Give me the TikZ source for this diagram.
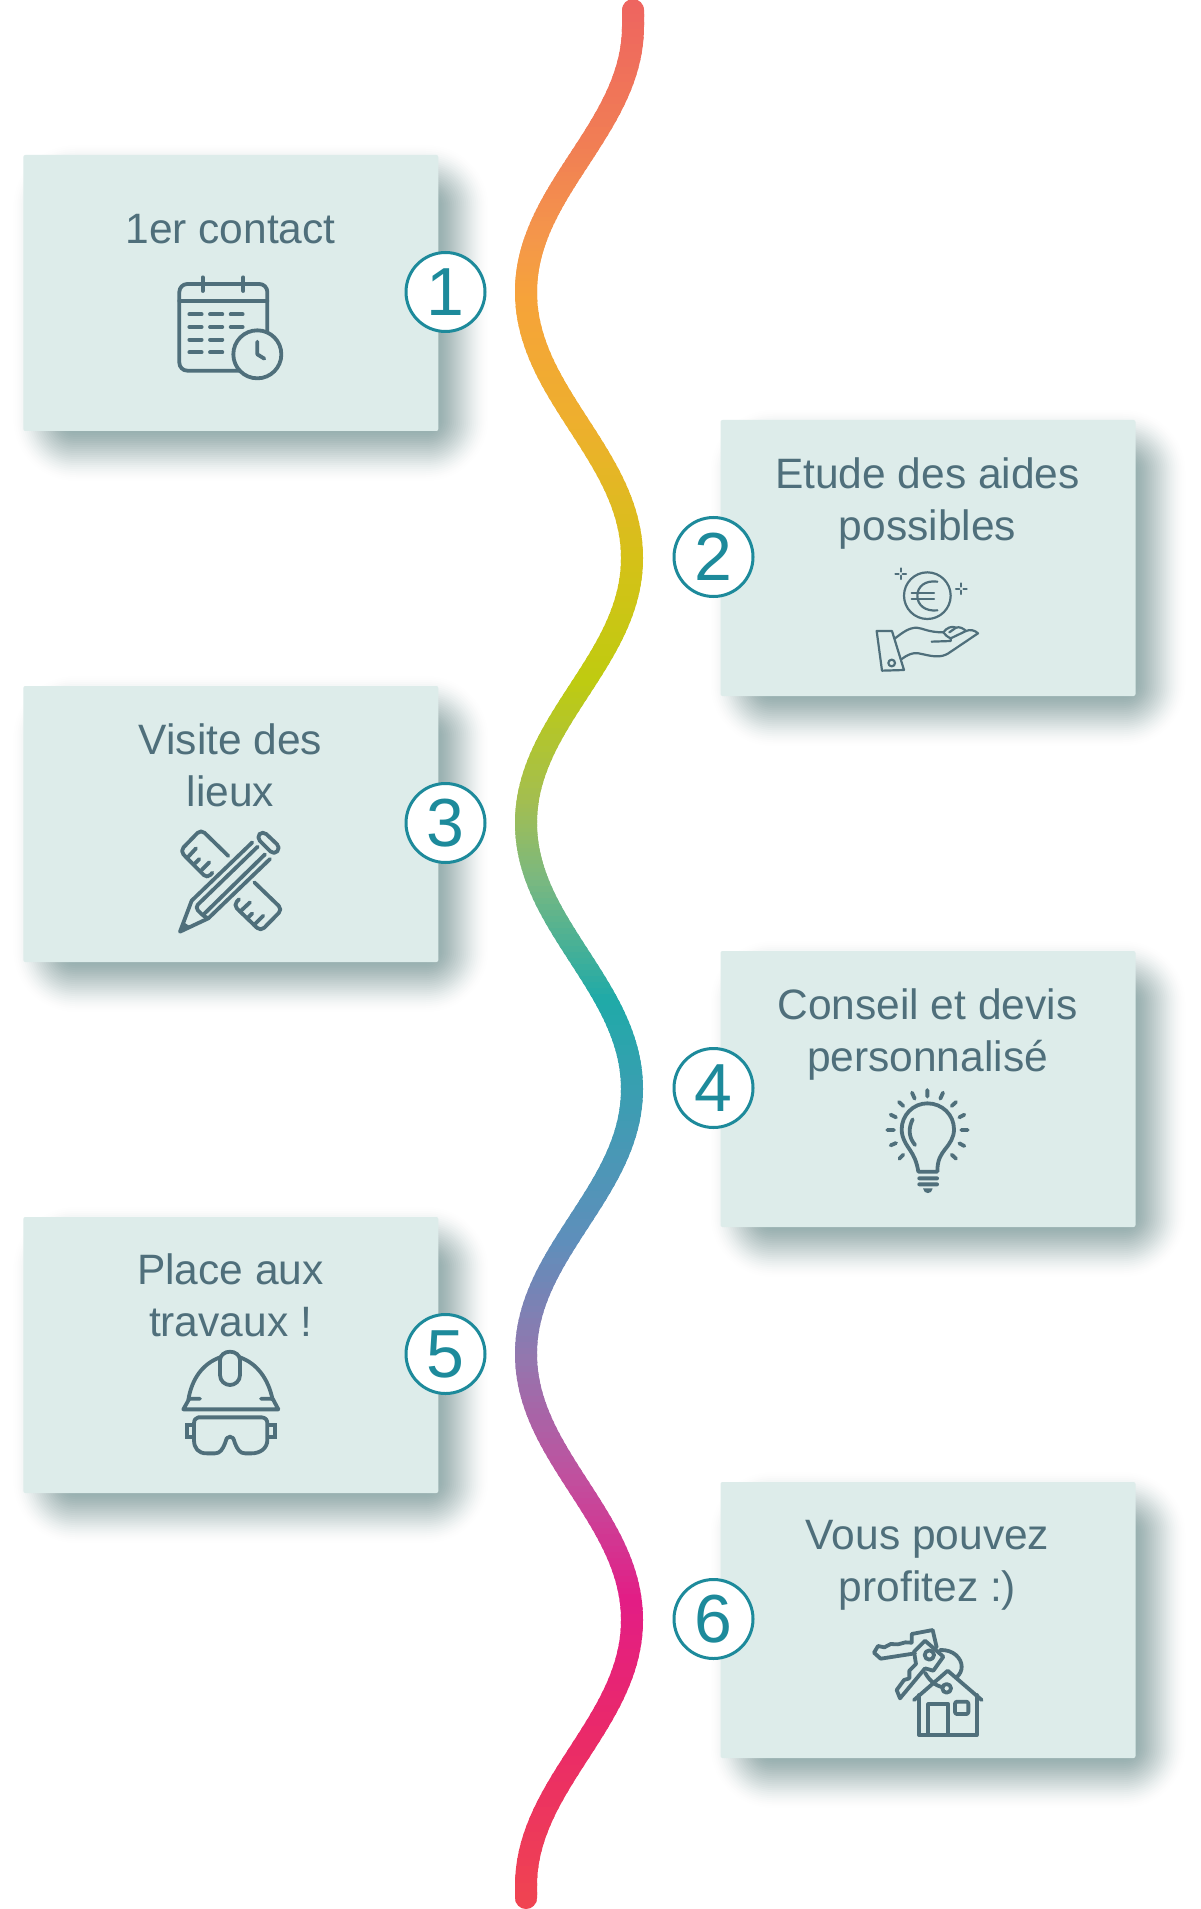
\documentclass[tikz,border=0pt]{standalone}
\usepackage{fontspec}
\setmainfont{Liberation Sans}
\definecolor{boxc}{HTML}{DDECEA}
\definecolor{inkc}{HTML}{4F6F7B}
\definecolor{numc}{HTML}{1D8A9B}
\definecolor{shadc}{HTML}{91ACAC}
\definecolor{w0}{HTML}{EE6460}\definecolor{w1}{HTML}{F17F54}\definecolor{w2}{HTML}{F4974A}
\definecolor{w3}{HTML}{F6A33A}\definecolor{w4}{HTML}{EDB02D}\definecolor{w5}{HTML}{D5C118}
\definecolor{w6}{HTML}{BFCB10}\definecolor{w7}{HTML}{A3BE50}\definecolor{w8}{HTML}{7AB880}
\definecolor{w9}{HTML}{1FAAA8}\definecolor{w10}{HTML}{3C9DB2}\definecolor{w11}{HTML}{5E8FBB}
\definecolor{w12}{HTML}{9476AE}\definecolor{w13}{HTML}{C14F9E}\definecolor{w14}{HTML}{E31D85}
\definecolor{w15}{HTML}{EA2A68}\definecolor{w16}{HTML}{F04550}
\tikzset{
 cardbox/.style={fill=boxc,draw=none,rounded corners=1pt,minimum width=207.5pt,minimum height=138pt,inner sep=0pt,outer sep=0pt},
 cardtext/.style={text=inkc,font=\fontsize{21.25}{26.2}\selectfont,align=center,anchor=north,inner sep=0pt},
 numdisc/.style={circle,fill=white,draw=numc,line width=1.5pt,minimum size=39.5pt,inner sep=0pt,text=numc,font=\fontsize{34}{34}\selectfont},
 icon/.style={draw=inkc,line width=1.9pt,line cap=round,line join=round},
 iconthin/.style={draw=inkc,line width=1.1pt,line cap=round,line join=round},
 zoomed/.style={x=0.16667pt,y=-0.16667pt},
}
\newcommand{\softcard}[2]{% #1 left, #2 top of the card
 \foreach \i in {1,...,31}{
  \pgfmathsetmacro{\tA}{(\i-1)/31}
  \pgfmathsetmacro{\tB}{\i/31}
  \pgfmathsetmacro{\cA}{\tA*\tA*(3-2*\tA)}
  \pgfmathsetmacro{\cB}{\tB*\tB*(3-2*\tB)}
  \pgfmathsetmacro{\al}{(\cB-\cA)/(1-\cA)}
  \pgfmathsetmacro{\e}{30-2*(\i-1)}
  \pgfmathsetmacro{\rr}{max(1,(\e+32)*0.5)}
  \fill[shadc,opacity=\al,rounded corners=\rr pt] ({#1+20-\e},{#2+20-\e}) rectangle ({#1+435+\e},{#2+296+\e});
 }
}
\newcommand{\wavecurve}{(633,10) -- (633,26)
 .. controls (633,128) and (526,190) .. (526,292)
 .. controls (526,394) and (632,456) .. (632,558)
 .. controls (632,660) and (526,721) .. (526,823)
 .. controls (526,925) and (632,987) .. (632,1089)
 .. controls (632,1191) and (526,1252) .. (526,1354)
 .. controls (526,1456) and (632,1518) .. (632,1620)
 .. controls (632,1722) and (526,1784) .. (526,1886) -- (526,1898)}
\begin{document}
\begin{tikzpicture}[x=0.5pt,y=-0.5pt]
\path[use as bounding box,fill=white] (0,0) rectangle (1200,1909);
% shadows
\softcard{23.3}{155}\softcard{720.5}{420}\softcard{23.3}{686}\softcard{720.5}{951}\softcard{23.3}{1217}\softcard{720.5}{1482}
% cards
\node[cardbox,anchor=north west] (c1) at (23.3,155) {};
\node[cardbox,anchor=north west] (c2) at (720.5,420) {};
\node[cardbox,anchor=north west] (c3) at (23.3,686) {};
\node[cardbox,anchor=north west] (c4) at (720.5,951) {};
\node[cardbox,anchor=north west] (c5) at (23.3,1217) {};
\node[cardbox,anchor=north west] (c6) at (720.5,1482) {};
% wave
\foreach \ya/\ca/\yb/\cb in {0/w0/150/w1,150/w1/240/w2,240/w2/300/w3,300/w3/430/w4,430/w4/560/w5,560/w5/680/w6,680/w6/800/w7,800/w7/880/w8,880/w8/1000/w9,1000/w9/1100/w10,1100/w10/1240/w11,1240/w11/1360/w12,1360/w12/1480/w13,1480/w13/1600/w14,1600/w14/1740/w15,1740/w15/1909/w16}{
 \foreach \k in {0,...,19}{
  \pgfmathsetmacro{\ylo}{\ya+(\yb-\ya)*\k/20}
  \pgfmathsetmacro{\yhi}{\ya+(\yb-\ya)*(\k+1)/20+2}
  \pgfmathsetmacro{\pc}{5*\k+2.5}
  \colorlet{wc}{\cb!\pc!\ca}
  \begin{scope}
   \clip (480,\ylo) rectangle (680,\yhi);
   \draw[wc,line width=11pt,line cap=round] \wavecurve;
  \end{scope}
 }
}
% titles
\node[cardtext] (t1) at (230.5,213.5) {1er contact};
\node[cardtext] (t2) at (927.5,457) {Etude des aides\\possibles};
\node[cardtext] (t3) at (230.5,723) {Visite des\\lieux};
\node[cardtext] (t4) at (927.5,988) {Conseil et devis\\personnalisé};
\node[cardtext] (t5) at (230.5,1253) {Place aux\\travaux !};
\node[cardtext] (t6) at (927.5,1519.5) {Vous pouvez\\profitez :)};
% numbers
\node[numdisc] (n1) at (445.5,292) {1};
\node[numdisc] (n2) at (713.5,557) {2};
\node[numdisc] (n3) at (445.5,823) {3};
\node[numdisc] (n4) at (713.5,1088) {4};
\node[numdisc] (n5) at (445.5,1354) {5};
\node[numdisc] (n6) at (713.5,1619) {6};
% icon 1: calendar
\begin{scope}[shift={(160,260)},zoomed]
 \draw[icon] (128,52) -- (128,93) (250,52) -- (250,93);
 \draw[icon,rounded corners=4pt] (58,72) rectangle (322,332);
 \draw[icon] (58,122) -- (322,122);
 \foreach \yy in {163,201,239,277}{\draw[icon] (88,\yy) -- (125,\yy) (150,\yy) -- (187,\yy);}
 \foreach \yy in {163,201}{\draw[icon] (212,\yy) -- (248,\yy);}
 \filldraw[icon,fill=boxc] (292,283) circle[radius=72];
 \draw[icon] (292,245) -- (292,283) -- (313,296);
\end{scope}
% icon 2: coin and hand
\begin{scope}[shift={(860,555)},zoomed]
 \draw[iconthin] (202,122) circle[radius=70];
 \draw[iconthin] (232,80) .. controls (195,75) and (172,95) .. (172,122) .. controls (172,150) and (195,170) .. (232,166);
 \draw[iconthin] (155,113) -- (222,113) (155,133) -- (222,133);
 \draw[iconthin] (122,40) -- (122,50) (122,62) -- (122,72) (106,56) -- (116,56) (128,56) -- (138,56);
 \draw[iconthin] (304,85) -- (304,95) (304,107) -- (304,117) (288,101) -- (298,101) (310,101) -- (320,101);
 \draw[iconthin] (50,228) -- (96,228) -- (132,345) -- (66,347) -- cycle;
 \draw[iconthin] (95,324) circle[radius=10];
 \draw[iconthin] (105,250) .. controls (125,235) and (145,218) .. (170,218) .. controls (190,220) and (205,232) .. (250,232)
   .. controls (260,218) and (275,212) .. (288,218) .. controls (298,214) and (310,220) .. (318,228) .. controls (330,222) and (345,226) .. (354,235)
   -- (265,295) .. controls (245,308) and (220,305) .. (190,298) .. controls (170,293) and (155,290) .. (125,312);
 \draw[iconthin] (215,260) -- (272,258) (272,258) -- (272,250) .. controls (262,245) and (255,240) .. (250,232);
 \draw[iconthin] (272,250) -- (318,228) (288,218) -- (268,232);
\end{scope}
% icon 3: pencil and ruler
\begin{scope}[shift={(140,810)},zoomed]
 \draw[icon,rounded corners=2.5pt] (265,138) -- (183,58) -- (120,123) -- (202,206) -- (217,188);
 \draw[icon] (145,140) -- (168,115) (165,160) -- (178,147) (185,180) -- (208,157);
 \draw[icon,rounded corners=2.5pt] (343,217) -- (427,298) -- (362,364) -- (280,285) -- (297,268);
 \draw[icon] (300,305) -- (330,277) (322,325) -- (337,310) (342,345) -- (370,317);
 \draw[icon,rounded corners=2.5pt] (368,62) -- (422,113) -- (402,135) -- (349,82) -- cycle;
 \draw[icon] (337,97) -- (155,272) -- (120,365) -- (205,325) -- (390,147);
 \draw[icon,rounded corners=2pt] (353,110) -- (165,292) -- (192,320) -- (205,325);
 \draw[icon] (375,133) -- (192,312);
 \fill[inkc] (120,366) -- (130,336) -- (152,350) -- cycle;
\end{scope}
% icon 4: bulb
\begin{scope}[shift={(850,1080)},zoomed]
 \draw[icon] (205,275) -- (262,275) .. controls (262,240) and (272,225) .. (285,208) .. controls (300,190) and (312,172) .. (312,148)
   .. controls (312,105) and (277,70) .. (232,70) .. controls (190,70) and (155,105) .. (155,148) .. controls (155,175) and (170,195) .. (180,210) .. controls (192,228) and (200,245) .. (205,275) -- cycle;
 \draw[icon] (188,118) .. controls (175,145) and (175,170) .. (195,195);
 \fill[inkc,rounded corners=1pt] (202,289) rectangle (267,301);
 \fill[inkc,rounded corners=1pt] (202,307) rectangle (267,319);
 \fill[inkc] (219,325) -- (248,325) .. controls (246,344) and (221,344) .. (219,325) -- cycle;
 \draw[icon] (232,30) -- (232,50) (186,38) -- (194,56) (279,38) -- (271,56) (147,66) -- (160,78) (318,66) -- (305,78)
   (122,104) -- (138,112) (343,104) -- (328,112) (112,150) -- (132,150) (353,150) -- (334,150)
   (122,196) -- (138,189) (343,198) -- (328,190) (148,236) -- (160,224) (318,236) -- (305,224);
\end{scope}
% icon 5: helmet and goggles
\begin{scope}[shift={(150,1340)},zoomed]
 \draw[icon] (115,180) .. controls (125,115) and (160,70) .. (210,52);
 \draw[icon] (270,52) .. controls (320,70) and (355,115) .. (368,180);
 \draw[icon] (210,60) .. controls (210,45) and (225,35) .. (240,35) .. controls (255,35) and (270,45) .. (270,60) -- (270,105) .. controls (270,123) and (255,135) .. (240,135) .. controls (225,135) and (210,123) .. (210,105) -- cycle;
 \draw[icon] (150,176) -- (118,176) -- (100,208) -- (385,208) -- (368,176) -- (333,176);
 \draw[icon] (145,232) -- (335,232) .. controls (347,233) and (352,240) .. (352,250) -- (352,300) .. controls (352,325) and (330,340) .. (305,340) -- (285,340) .. controls (270,340) and (262,328) .. (255,310) .. controls (250,295) and (250,290) .. (240,290) .. controls (230,290) and (230,295) .. (225,310) .. controls (218,328) and (210,340) .. (195,340) -- (170,340) .. controls (145,340) and (132,325) .. (132,300) -- (132,250) .. controls (132,240) and (137,233) .. (145,232) -- cycle;
 \draw[icon,line cap=butt,line join=miter] (130,256) -- (110,256) -- (110,292) -- (130,292);
 \draw[icon,line cap=butt,line join=miter] (354,256) -- (375,256) -- (375,292) -- (354,292);
\end{scope}
% icon 6: keys and house
\begin{scope}[shift={(850,1610)},zoomed]
 \draw[icon] (270,120) .. controls (310,118) and (335,145) .. (335,170) .. controls (335,182) and (330,192) .. (320,202);
 \draw[icon] (195,130) -- (92,146) -- (72,128) -- (84,108) -- (103,112) -- (122,102) -- (144,103) -- (166,97) -- (185,98) -- (185,72) -- (248,60) -- (260,112);
 \draw[icon] (225,175) -- (150,265) -- (140,240) -- (162,210) -- (178,205) -- (178,182) -- (198,162) -- (192,125) -- (225,92) -- (280,140) -- (250,182) -- (225,175);
 \draw[icon] (238,135) circle[radius=14];
 \draw[icon] (225,188) .. controls (240,215) and (260,228) .. (278,232);
 \draw[icon] (290,235) circle[radius=13];
 \draw[icon] (192,270) -- (293,182) -- (395,270);
 \draw[icon] (207,255) -- (207,375) -- (380,375) -- (380,255);
 \draw[icon] (235,375) -- (235,283) -- (295,283) -- (295,375);
 \draw[icon,rounded corners=1pt] (315,275) rectangle (355,312);
\end{scope}
\end{tikzpicture}
\end{document}
